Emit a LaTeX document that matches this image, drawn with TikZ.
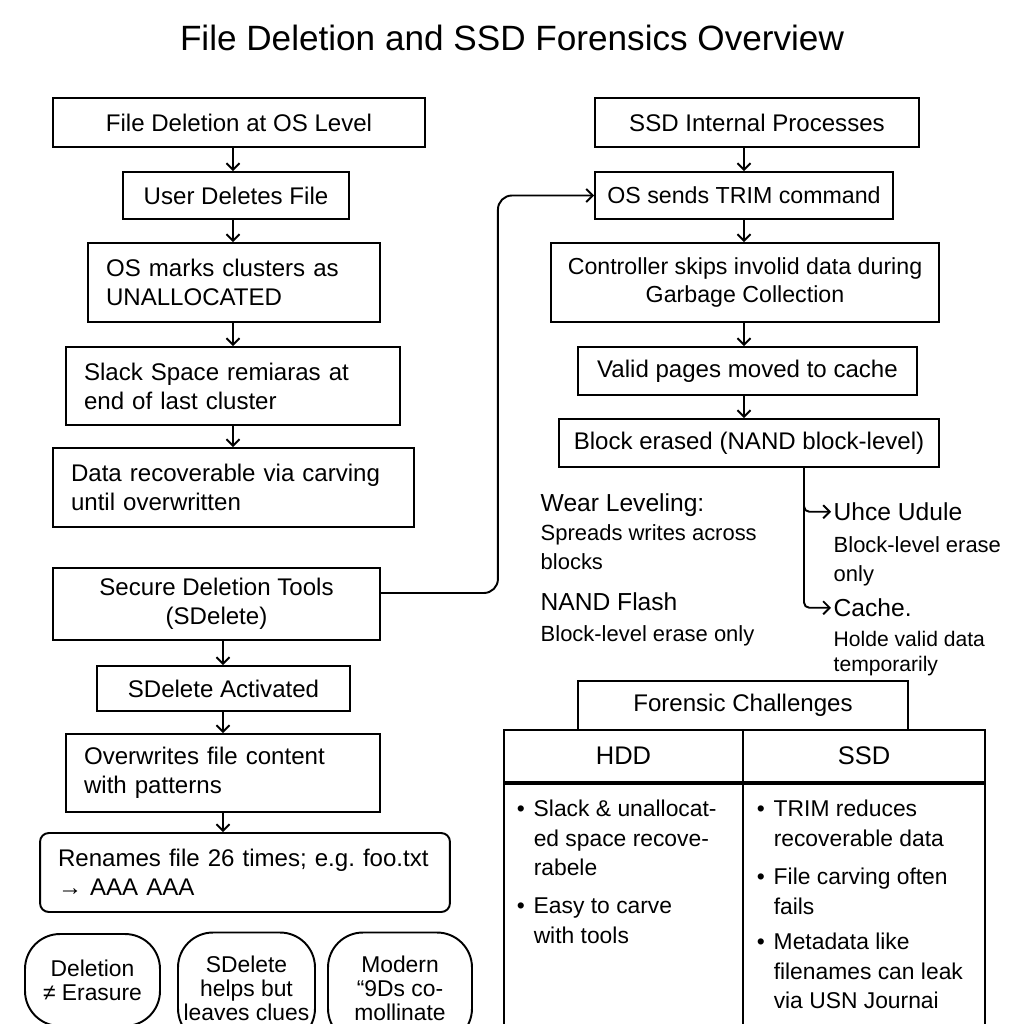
\documentclass[tikz,border=0pt]{standalone}
\usepackage{fontspec}
\setmainfont{Liberation Sans}
\usetikzlibrary{arrows.meta,positioning}
\newcommand{\bitems}[1]{\begin{tabular}{@{}l@{\hspace{5pt}}l@{}}#1\end{tabular}}

\begin{document}
\begin{tikzpicture}[x=0.02cm, y=-0.02cm, line width=1.1pt,
  >={Straight Barb[length=1.3mm,width=2.6mm]},
  box/.style={draw, inner sep=0pt, align=center, font=\fontsize{13.7}{16.5}\selectfont},
  lbox/.style={box, align=left, inner xsep=0.36cm},
  bubble/.style={draw, rounded corners=0.7cm, inner sep=0pt, align=center, font=\fontsize{13}{13.6}\selectfont},
  note/.style={anchor=north west, inner sep=1pt, align=left, font=\fontsize{12.5}{16.5}\selectfont},
  head/.style={note, font=\fontsize{14}{17}\selectfont},
  small/.style={note, font=\fontsize{12}{14.7}\selectfont},
  item/.style={anchor=north west, inner sep=0pt, font=\fontsize{13}{16.8}\selectfont}]
\useasboundingbox (0,0) rectangle (1024,1024);

\node[font=\fontsize{20}{24}\selectfont] (title) at (512,38) {File Deletion and SSD Forensics Overview};

% left column: deletion at OS level
\node[box, minimum width=7.44cm, minimum height=0.98cm] (osdel) at (239,122.5) {File Deletion at OS Level};
\node[box, minimum width=4.52cm, minimum height=0.94cm] (userdel) at (236,195.5) {User Deletes File};
\node[lbox, text width=5.12cm, minimum height=1.58cm] (marks) at (234,282.5) {OS marks clusters as\\UNALLOCATED};
\node[lbox, text width=5.96cm, minimum height=1.56cm] (slack) at (233,386) {Slack Space remiaras at\\end of last cluster};
\node[lbox, text width=6.50cm, minimum height=1.58cm] (carve) at (233.5,487.5) {Data recoverable via carving\\until overwritten};

% left column: secure deletion
\node[box, minimum width=6.54cm, minimum height=1.44cm] (tools) at (216.5,604) {Secure Deletion Tools\\(SDelete)};
\node[box, minimum width=5.06cm, minimum height=0.9cm] (active) at (223.5,688.5) {SDelete Activated};
\node[lbox, text width=5.56cm, minimum height=1.56cm] (overw) at (223,773) {Overwrites file content\\with patterns};
\node[lbox, text width=7.48cm, minimum height=1.58cm, rounded corners=5pt] (rename) at (245,872.5) {Renames file 26 times; e.g.\ foo.txt\\→ AAA AAA};

\node[bubble, minimum width=2.7cm, minimum height=1.84cm] (nb1) at (92.5,980) {Deletion\\≠ Erasure};
\node[bubble, minimum width=2.74cm, minimum height=2.22cm] (nb2) at (246.5,988) {SDelete\\helps but\\leaves clues};
\node[bubble, minimum width=2.88cm, minimum height=2.22cm] (nb3) at (400,988) {Modern\\“9Ds co-\\mollinate};

% right column: SSD
\node[box, minimum width=6.48cm, minimum height=0.98cm] (ssdint) at (757,122.5) {SSD Internal Processes};
\node[box, minimum width=5.96cm, minimum height=0.94cm, font=\fontsize{13.2}{16.5}\selectfont] (trim) at (744,195.5) {OS sends TRIM command};
\node[box, minimum width=7.76cm, minimum height=1.58cm, font=\fontsize{13.2}{16.5}\selectfont] (gc) at (745,282.5) {Controller skips involid data during\\Garbage Collection};
\node[box, minimum width=6.78cm, minimum height=0.96cm] (valid) at (747.5,371) {Valid pages moved to cache};
\node[box, minimum width=7.6cm, minimum height=0.96cm] (erase) at (749,443) {Block erased (NAND block-level)};

\node[head] (wear) at (538,491) {Wear Leveling:};
\node[note] (spread) at (538,522) {Spreads writes across\\blocks};
\node[head] (nand) at (538,590) {NAND Flash};
\node[note] (nandtxt) at (538,623) {Block-level erase only};
\node[head] (uhce) at (831,500) {Uhce Udule};
\node[note] (blk) at (831,534) {Block-level erase\\only};
\node[head] (cachehd) at (831,596) {Cache.};
\node[small] (holds) at (831,628) {Holde valid data\\temporarily};

% forensic challenges table
\node[box, minimum width=6.6cm, minimum height=0.98cm] (fc) at (743,705.5) {Forensic Challenges};
\node[box, minimum width=4.78cm, minimum height=1.04cm, font=\fontsize{14.5}{17}\selectfont] (hdd) at (623.5,756) {HDD};
\node[box, minimum width=4.84cm, minimum height=1.04cm, font=\fontsize{14.5}{17}\selectfont] (ssd) at (864,756) {SSD};
\node[draw, inner sep=0pt, minimum width=4.78cm, minimum height=5.2cm, anchor=north] (hddbody) at (hdd.south) {};
\node[draw, inner sep=0pt, minimum width=4.84cm, minimum height=5.2cm, anchor=north] (ssdbody) at (ssd.south) {};

\node[item] (hdd1) at (516,795) {\bitems{\textbullet & Slack \& unallocat-\\ & ed space recove-\\ & rabele}};
\node[item] (hdd2) at (516,892) {\bitems{\textbullet & Easy to carve\\ & with tools}};
\node[item] (ssd1) at (756,795) {\bitems{\textbullet & TRIM reduces\\ & recoverable data}};
\node[item] (ssd2) at (756,863) {\bitems{\textbullet & File carving often\\ & fails}};
\node[item] (ssd3) at (756,928) {\bitems{\textbullet & Metadata like\\ & filenames can leak\\ & via USN Journai}};

% arrows
\draw[->] (osdel.south -| slack) -- (userdel.north -| slack);
\draw[->] (userdel.south -| slack) -- (marks.north -| slack);
\draw[->] (marks.south -| slack) -- (slack.north);
\draw[->] (slack.south) -- (carve.north -| slack);
\draw[->] (tools.south -| overw) -- (active.north -| overw);
\draw[->] (active.south -| overw) -- (overw.north);
\draw[->] (overw.south) -- (rename.north -| overw);
\draw[->, rounded corners=8pt] ([yshift=0.22cm]tools.east) -- ++(117,0) |- (trim.west);

\draw[->] (ssdint.south -| trim) -- (trim.north);
\draw[->] (trim.south) -- (gc.north -| trim);
\draw[->] (gc.south -| trim) -- (valid.north -| trim);
\draw[->] (valid.south -| trim) -- (erase.north -| trim);
\draw[->, rounded corners=3pt] ([xshift=1.1cm]erase.south) |- (uhce.west);
\draw[->, rounded corners=3pt] ([xshift=1.1cm]erase.south) |- (cachehd.west);
\end{tikzpicture}
\end{document}
